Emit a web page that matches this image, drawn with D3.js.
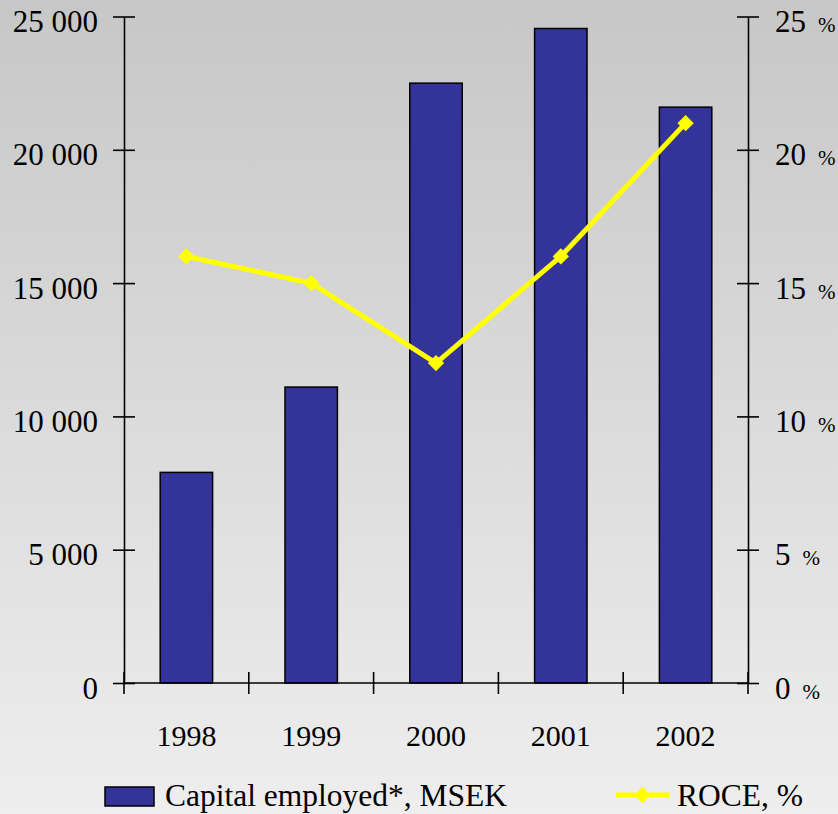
<!DOCTYPE html>
<html>
<head>
<meta charset="utf-8">
<script src="https://cdn.jsdelivr.net/npm/d3@7/dist/d3.min.js"></script>
<style>
  html, body { margin: 0; padding: 0; }
  svg { display: block; }
  text { font-family: "Liberation Serif", "Times New Roman", serif; fill: #000; }
</style>
</head>
<body>
<svg id="chart" width="838" height="814"></svg>
<script>
// Capital employed (MSEK) and return on capital employed (%), 1998–2002
const years = ["1998", "1999", "2000", "2001", "2002"];
const capitalEmployed = [7900, 11100, 22500, 24550, 21600];
const roce = [16, 15, 12, 16, 21];
const leftTicks = [0, 5000, 10000, 15000, 20000, 25000];
const rightTicks = [0, 5, 10, 15, 20, 25];
const legendLabels = ["Capital employed*, MSEK", "ROCE, %"];

const W = 838, H = 814;
const plot = { left: 124, right: 748, top: 16.5, bottom: 683 };

const svg = d3.select("#chart");

// soft vertical grey gradient background
const defs = svg.append("defs");
const grad = defs.append("linearGradient")
  .attr("id", "bg").attr("x1", 0).attr("y1", 0).attr("x2", 0).attr("y2", 1);
grad.append("stop").attr("offset", "0%").attr("stop-color", "#c7c7c7");
grad.append("stop").attr("offset", "100%").attr("stop-color", "#eeeeee");
svg.append("rect").attr("width", W).attr("height", H).attr("fill", "url(#bg)");

const x = d3.scaleBand().domain(years).range([plot.left, plot.right]).padding(0);
const yL = d3.scaleLinear().domain([0, 25000]).range([plot.bottom, plot.top]);
const yR = d3.scaleLinear().domain([0, 25]).range([plot.bottom, plot.top]);

const fmt = v => d3.format(",")(v).replace(/,/g, " ");
const barW = x.bandwidth() * 0.42;

// bars
svg.append("g").selectAll("rect")
  .data(years.map((yr, i) => ({ yr, v: capitalEmployed[i] })))
  .join("rect")
  .attr("x", d => x(d.yr) + x.bandwidth() / 2 - barW / 2)
  .attr("y", d => yL(d.v))
  .attr("width", barW)
  .attr("height", d => yL(0) - yL(d.v))
  .attr("fill", "#333399")
  .attr("stroke", "#000")
  .attr("stroke-width", 1.5);

// axes
const axisStroke = g => g.selectAll("line, path").attr("stroke", "#000").attr("stroke-width", 1.6);

const leftAxis = svg.append("g").attr("transform", `translate(${plot.left},0)`)
  .call(d3.axisLeft(yL).tickValues(leftTicks).tickSize(11).tickSizeOuter(0).tickFormat(""));
leftAxis.selectAll(".tick line").attr("x2", 11).attr("x1", -11);
leftAxis.call(axisStroke);
leftAxis.selectAll(".tick").append("text")
  .attr("x", -26).attr("y", 15)
  .attr("text-anchor", "end")
  .style("font-size", "31px")
  .text(d => fmt(d));

const rightAxis = svg.append("g").attr("transform", `translate(${plot.right},0)`)
  .call(d3.axisRight(yR).tickValues(rightTicks).tickSize(11).tickSizeOuter(0).tickFormat(""));
rightAxis.selectAll(".tick line").attr("x1", -11).attr("x2", 11);
rightAxis.call(axisStroke);
const rt = rightAxis.selectAll(".tick").append("text")
  .attr("x", 27).attr("y", 15)
  .attr("text-anchor", "start");
rt.append("tspan").style("font-size", "31px").text(d => d);
rt.append("tspan").attr("dx", 12).style("font-size", "21px").text("%");

const bottomAxis = svg.append("g").attr("transform", `translate(0,${plot.bottom})`)
  .call(d3.axisBottom(x).tickSize(0).tickSizeOuter(0).tickFormat(""));
bottomAxis.call(axisStroke);
bottomAxis.select(".domain").attr("d", `M${plot.left},0H${plot.right}`);
// category separators
const bounds = years.map(yr => x(yr)).concat([x(years[years.length - 1]) + x.bandwidth()]);
bottomAxis.append("g").selectAll("line").data(bounds).join("line")
  .attr("x1", d => d).attr("x2", d => d)
  .attr("y1", -11).attr("y2", 11)
  .attr("stroke", "#000").attr("stroke-width", 1.6);
bottomAxis.selectAll(".tick").append("text")
  .attr("y", 63)
  .attr("text-anchor", "middle")
  .style("font-size", "30px")
  .text(d => d);

// ROCE line
const cx = yr => x(yr) + x.bandwidth() / 2;
const pts = years.map((yr, i) => [cx(yr), yR(roce[i])]);
svg.append("path")
  .attr("d", d3.line()(pts))
  .attr("fill", "none")
  .attr("stroke", "#ffff00")
  .attr("stroke-width", 5)
  .attr("stroke-linejoin", "round");
const diamond = d3.symbol().type(d3.symbolDiamond2).size(170);
svg.append("g").selectAll("path").data(pts).join("path")
  .attr("transform", d => `translate(${d[0]},${d[1]})`)
  .attr("d", diamond)
  .attr("fill", "#ffff00");

// legend
const lg = svg.append("g");
lg.append("rect")
  .attr("x", 105).attr("y", 787).attr("width", 49).attr("height", 19)
  .attr("fill", "#333399").attr("stroke", "#000").attr("stroke-width", 1.5);
lg.append("text").attr("x", 165).attr("y", 806)
  .style("font-size", "31.5px").text(legendLabels[0]);
lg.append("line")
  .attr("x1", 616).attr("x2", 669).attr("y1", 795).attr("y2", 795)
  .attr("stroke", "#ffff00").attr("stroke-width", 5);
lg.append("path")
  .attr("transform", "translate(642.5,795)")
  .attr("d", diamond)
  .attr("fill", "#ffff00");
lg.append("text").attr("x", 677).attr("y", 806)
  .style("font-size", "31.5px").text(legendLabels[1]);
</script>
</body>
</html>
